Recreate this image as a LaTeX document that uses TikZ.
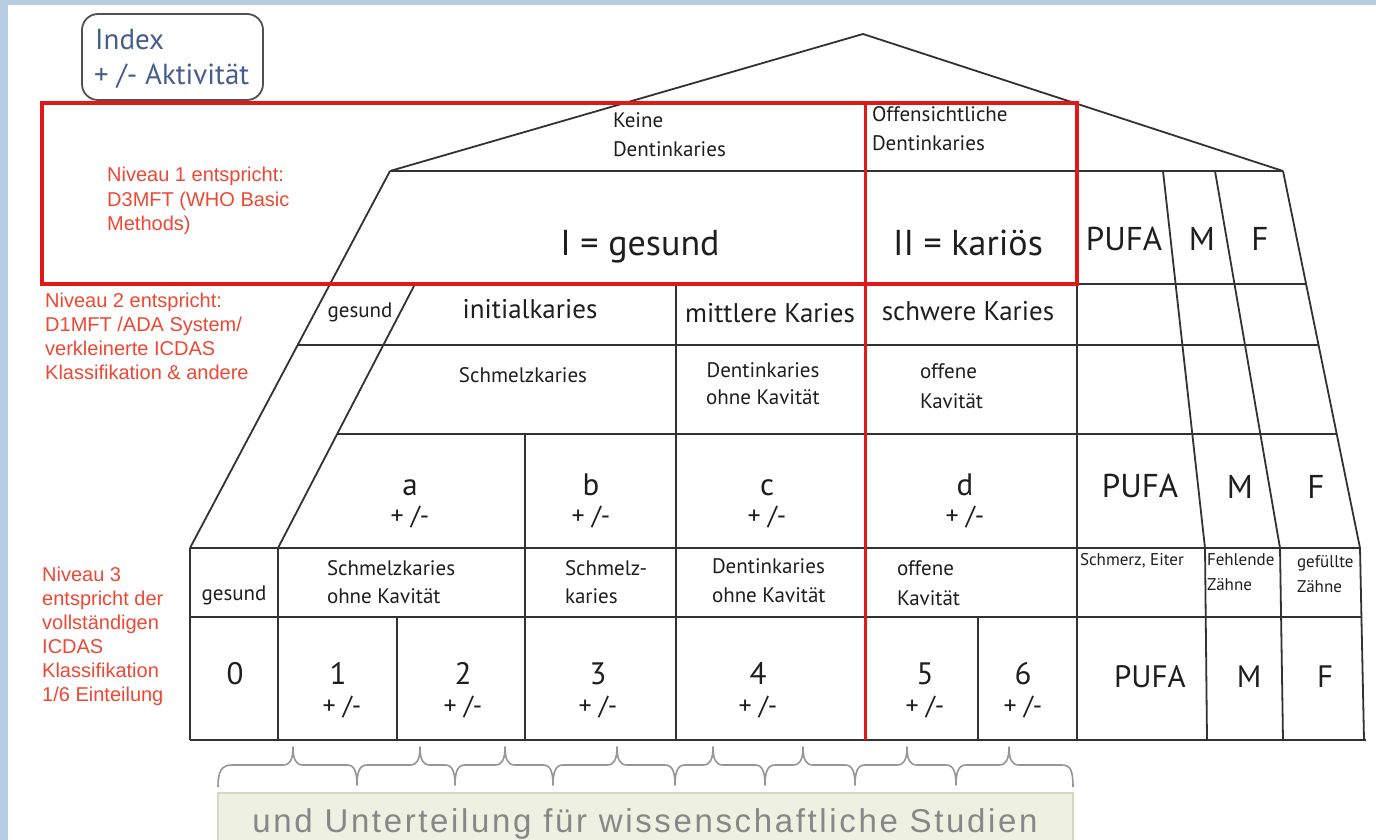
\documentclass[tikz,border=0pt]{standalone}
\usepackage{fontspec}
\setmainfont{PT Sans}
\newfontfamily\arialf{Liberation Sans}
\newfontfamily\boxf[LetterSpace=8]{Liberation Sans}
\definecolor{bgblue}{RGB}{184,204,228}
\definecolor{linec}{RGB}{50,50,50}
\definecolor{redbox}{RGB}{224,24,24}
\definecolor{redtxt}{RGB}{238,72,52}
\definecolor{idxblue}{RGB}{70,94,140}
\definecolor{textc}{RGB}{30,30,30}
\definecolor{boxfill}{RGB}{238,241,226}
\definecolor{boxline}{RGB}{212,216,196}
\definecolor{graytxt}{RGB}{135,135,135}
\definecolor{bracec}{RGB}{150,150,150}
\begin{document}
\begin{tikzpicture}[x=1pt,y=-1pt,
  gridline/.style={draw=linec,line width=1.8pt,line join=round},
  redline/.style={draw=redbox,line width=4.8pt},
  lbl/.style={inner sep=0pt,outer sep=0pt,text=textc,anchor=base},
  lbll/.style={lbl,anchor=base west},
  fbig/.style={font=\fontsize{36}{40}\selectfont},
  fhead/.style={font=\fontsize{33}{38}\selectfont},
  fmid/.style={font=\fontsize{27}{32}\selectfont},
  fsm/.style={font=\fontsize{21}{25}\selectfont},
  fxs/.style={font=\fontsize{17}{20}\selectfont},
  flet/.style={font=\fontsize{31}{36}\selectfont},
  fpm/.style={font=\fontsize{26}{30}\selectfont},
  redlbl/.style={inner sep=0pt,anchor=base west,text=redtxt,font=\arialf\fontsize{20}{24}\selectfont},
  idxlbl/.style={inner sep=0pt,anchor=base west,text=idxblue,font=\fontsize{29}{34}\selectfont},
  brace/.style={draw=bracec,line width=1.6pt,line join=round}
]
\useasboundingbox (0,0) rectangle (1376,840);
\fill[bgblue] (0,0) rectangle (1376,840);
\fill[white] (8,5) rectangle (1376,840);

% index box
\draw[draw=linec!85,line width=1.8pt,rounded corners=16pt] (82,14) rectangle (263,100);
\node[idxlbl] (idx1) at (95,50) {Index};
\node[idxlbl] (idx2) at (94,85) {+ /- Aktivität};

% bottom box
\fill[boxfill] (218,793) rectangle (1073,850);
\draw[boxline,line width=1.5pt] (218,850) -- (218,793) -- (1073,793) -- (1073,850);
\node[inner sep=0pt,anchor=base,text=graytxt,font=\boxf\fontsize{33}{36}\selectfont] (studien) at (645,832) {und Unterteilung für wissenschaftliche Studien};

% braces
\draw[brace] (218,787) .. controls (218,772) and (221,765) .. (232,765)
  \foreach \x/\d in {293/-18,357/20,420/-18,455/20,505/-18,553/20,617/-18,675/20,713/-18,765/20,803/-18,855/20,907/-18,956/20,1009/-18}
  { -- (\x-10,765) .. controls (\x-3,765) and (\x,765+0.3*\d) .. (\x,765+\d) .. controls (\x,765+0.3*\d) and (\x+3,765) .. (\x+10,765) }
  -- (1062,765) .. controls (1071,765) and (1073,772) .. (1073,787);

% house outline
\draw[gridline] (390,171) -- (863,34) -- (1283,171);
\draw[gridline] (390,171) -- (1283,171);
\draw[gridline] (390,171) -- (190,548);
\draw[gridline] (415,284) -- (278,548);
\draw[gridline] (1283,171) -- (1360,548) -- (1364,740);
\draw[gridline] (1163,171) -- (1205,548) -- (1207,740);
\draw[gridline] (1215,171) -- (1280,548) -- (1283,740);
% horizontals
\draw[gridline] (330,284) -- (1306,284);
\draw[gridline] (298,345) -- (1318,345);
\draw[gridline] (337,434) -- (1336,434);
\draw[gridline] (190,548) -- (1360,548);
\draw[gridline] (190,617) -- (1362,617);
\draw[gridline] (190,740) -- (1366,740);
% verticals
\draw[gridline] (190,548) -- (190,740);
\draw[gridline] (278,548) -- (278,740);
\draw[gridline] (397,617) -- (397,740);
\draw[gridline] (525,434) -- (525,740);
\draw[gridline] (676,284) -- (676,740);
\draw[gridline] (978,617) -- (978,740);
\draw[gridline] (1077,171) -- (1077,740);

% red frame
\draw[redline] (42,103) rectangle (1077,284);
\draw[draw=redbox,line width=3pt] (865,103) -- (865,740);

% roof texts
\node[lbll,fsm] (keine1) at (613,128) {Keine};
\node[lbll,fsm] (keine2) at (613,157) {Dentinkaries};
\node[lbll,fsm] (offs1) at (872,122) {Offensichtliche};
\node[lbll,fsm] (offs2) at (872,150) {Dentinkaries};

% level 1 row
\node[lbl,fbig] (gesundI) at (640,255) {I = gesund};
\node[lbl,fbig] (kariosII) at (968,255) {II = kariös};
\node[lbl,fhead] (pufa1) at (1124,250) {PUFA};
\node[lbl,fhead] (m1) at (1202,250) {M};
\node[lbl,fhead] (f1) at (1260,250) {F};

% row 2
\node[lbl,fsm] (ges2) at (360,317) {gesund};
\node[lbl,fmid] (init) at (530,318) {initialkaries};
\node[lbl,fmid] (mittl) at (770,322) {mittlere Karies};
\node[lbl,fmid] (schw) at (968,320) {schwere Karies};

% row 3
\node[lbl,fsm] (schm3) at (523,382) {Schmelzkaries};
\node[lbl,fsm] (dent3a) at (763,377) {Dentinkaries};
\node[lbl,fsm] (dent3b) at (763,404) {ohne Kavität};
\node[lbll,fsm] (off3a) at (920,378) {offene};
\node[lbll,fsm] (off3b) at (920,408) {Kavität};

% row 4
\node[lbl,flet] (ra) at (410,495) {a};
\node[lbl,fpm] (rapm) at (410,524) {+ /-};
\node[lbl,flet] (rb) at (591,495) {b};
\node[lbl,fpm] (rbpm) at (591,524) {+ /-};
\node[lbl,flet] (rc) at (767,495) {c};
\node[lbl,fpm] (rcpm) at (767,524) {+ /-};
\node[lbl,flet] (rd) at (965,495) {d};
\node[lbl,fpm] (rdpm) at (965,524) {+ /-};
\node[lbl,fhead] (pufa4) at (1140,497) {PUFA};
\node[lbl,fhead] (m4) at (1240,498) {M};
\node[lbl,fhead] (f4) at (1316,498) {F};

% row 5
\node[lbl,fsm] (ges5) at (234,600) {gesund};
\node[lbll,fsm] (s5a) at (327,575) {Schmelzkaries};
\node[lbll,fsm] (s5b) at (327,603) {ohne Kavität};
\node[lbll,fsm] (sk5a) at (565,575) {Schmelz-};
\node[lbll,fsm] (sk5b) at (565,603) {karies};
\node[lbll,fsm] (d5a) at (712,573) {Dentinkaries};
\node[lbll,fsm] (d5b) at (712,602) {ohne Kavität};
\node[lbll,fsm] (o5a) at (897,575) {offene};
\node[lbll,fsm] (o5b) at (897,605) {Kavität};
\node[lbll,fxs] (se5) at (1080,565) {Schmerz, Eiter};
\node[lbll,fxs] (fz5a) at (1207,565) {Fehlende};
\node[lbll,fxs] (fz5b) at (1207,590) {Zähne};
\node[lbll,fxs] (gz5a) at (1297,567) {gefüllte};
\node[lbll,fxs] (gz5b) at (1297,592) {Zähne};

% row 6
\node[lbl,flet] (n0) at (235,684) {0};
\node[lbl,flet] (n1) at (338,684) {1};
\node[lbl,fpm] (n1pm) at (342,714) {+ /-};
\node[lbl,flet] (n2) at (463,684) {2};
\node[lbl,fpm] (n2pm) at (463,714) {+ /-};
\node[lbl,flet] (n3) at (598,684) {3};
\node[lbl,fpm] (n3pm) at (598,714) {+ /-};
\node[lbl,flet] (n4) at (758,684) {4};
\node[lbl,fpm] (n4pm) at (758,714) {+ /-};
\node[lbl,flet] (n5) at (925,684) {5};
\node[lbl,fpm] (n5pm) at (925,714) {+ /-};
\node[lbl,flet] (n6) at (1023,684) {6};
\node[lbl,fpm] (n6pm) at (1023,714) {+ /-};
\node[lbl,flet] (pufa6) at (1150,687) {PUFA};
\node[lbl,flet] (m6) at (1249,687) {M};
\node[lbl,flet] (f6) at (1325,687) {F};

% red labels
\node[redlbl] (nv1a) at (107,182) {Niveau 1 entspricht:};
\node[redlbl] (nv1b) at (107,206) {D3MFT (WHO Basic};
\node[redlbl] (nv1c) at (107,230) {Methods)};
\node[redlbl] (nv2a) at (45,307) {Niveau 2 entspricht:};
\node[redlbl] (nv2b) at (45,331) {D1MFT /ADA System/};
\node[redlbl] (nv2c) at (45,355) {verkleinerte ICDAS};
\node[redlbl] (nv2d) at (45,379) {Klassifikation \& andere};
\node[redlbl] (nv3a) at (42,581) {Niveau 3};
\node[redlbl] (nv3b) at (42,605) {entspricht der};
\node[redlbl] (nv3c) at (42,629) {vollständigen};
\node[redlbl] (nv3d) at (42,653) {ICDAS};
\node[redlbl] (nv3e) at (42,677) {Klassifikation};
\node[redlbl] (nv3f) at (42,701) {1/6 Einteilung};
\end{tikzpicture}
\end{document}
